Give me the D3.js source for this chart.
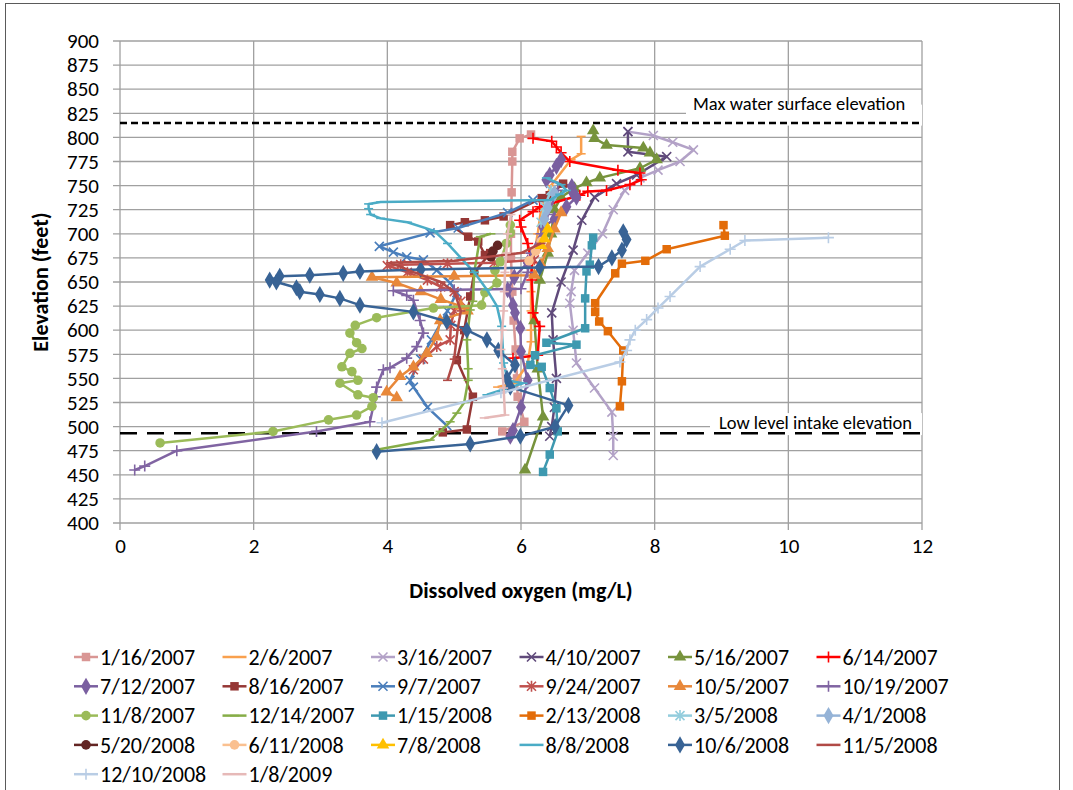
<!DOCTYPE html>
<html>
<head>
<meta charset="utf-8">
<script src="https://cdn.jsdelivr.net/npm/d3@7"></script>
<style>
  body { margin: 0; background: #fff; }
  text { font-family: Carlito, Lato, "Open Sans", sans-serif; }
</style>
</head>
<body>
<div id="chart"></div>
<script>
// DATA: each profile is [dissolved oxygen (mg/L), elevation (ft)]
const seriesNames = ["1/16/2007", "2/6/2007", "3/16/2007", "4/10/2007", "5/16/2007", "6/14/2007",
  "7/12/2007", "8/16/2007", "9/7/2007", "9/24/2007", "10/5/2007", "10/19/2007",
  "11/8/2007", "12/14/2007", "1/15/2008", "2/13/2008", "3/5/2008", "4/1/2008",
  "5/20/2008", "6/11/2008", "7/8/2008", "8/8/2008", "10/6/2008", "11/5/2008",
  "12/10/2008", "1/8/2009"];

const p20070116 = [[6.15,803],[5.98,799],[5.87,785],[5.87,775],[5.86,743],[5.85,700],[5.85,676],[5.87,640],[5.89,610],[5.92,580],[5.94,550],[5.95,531],[6.05,505],[5.72,495]];
const p20070206 = [[6.9,801],[6.9,783],[6.75,777],[6.45,750],[6.3,725],[6.25,700],[6.2,680],[6.15,660],[6.15,640],[6.15,620],[6.15,600],[6.15,588],[6.1,565],[5.9,545],[5.65,541]];
const p20070316 = [[7.6,806],[7.98,802],[8.27,795],[8.58,787],[8.38,775],[8.05,766],[7.78,758],[7.55,745],[7.38,725],[7.22,700],[7.0,680],[6.8,662],[6.75,640],[6.73,628],[6.78,600],[6.83,566],[7.1,540],[7.36,515],[7.38,490],[7.38,470]];
const p20070410 = [[7.6,806],[7.6,785],[8.18,780],[7.73,761],[7.43,752],[7.1,738],[6.91,714],[6.78,683],[6.6,650],[6.46,618],[6.48,590],[6.53,550],[6.5,520],[6.46,500],[6.43,490]];
const p20070516 = [[7.08,807],[7.1,799],[7.28,792],[7.83,789],[7.93,784],[8.03,777],[7.78,768],[7.18,758],[6.98,753],[6.8,747],[6.6,738],[6.5,725],[6.45,700],[6.4,680],[6.28,652],[6.2,610],[6.25,560],[6.33,510],[6.06,455]];
const p20070614 = [[6.18,799],[6.46,796],[6.53,790],[6.6,784],[6.73,775],[7.45,766],[7.78,763],[7.8,756],[7.63,751],[7.28,745],[7.0,744],[6.88,740],[6.28,728],[6.18,723],[5.98,714],[6.0,707],[6.1,690],[6.16,670],[6.16,652],[6.18,618],[6.28,604],[6.25,574],[5.88,571]];
const p20070712 = [[6.6,777],[6.53,770],[6.43,761],[6.38,756],[6.76,749],[6.78,742],[6.83,738],[6.68,728],[6.5,715],[6.33,707],[6.28,690],[6.1,670],[5.9,655],[5.8,642],[5.88,626],[5.91,618],[5.99,602],[6.0,578],[6.1,548],[6.0,520],[5.88,496],[5.84,490]];
const p20070816 = [[6.63,752],[6.43,740],[6.31,737],[5.74,718],[5.46,714],[5.16,712],[4.94,709],[5.21,697],[5.36,692],[5.46,678],[5.54,680],[5.3,660],[5.24,635],[5.15,600],[5.04,569],[5.28,531],[5.19,497],[4.83,494]];
const p20070907 = [[6.18,735],[5.8,722],[5.06,706],[4.64,701],[3.88,687],[4.09,681],[4.29,676],[4.54,673],[4.74,662],[4.94,649],[5.04,639],[4.9,620],[4.66,590],[4.5,570],[4.34,548],[4.39,541],[4.6,520],[4.89,501]];
const p20070924 = [[6.2,673],[5.6,670],[4.9,669],[4.2,668],[4.0,667],[4.3,660],[4.6,652],[4.8,645],[5.0,640],[5.1,630],[5.0,620],[4.95,605],[4.94,590],[4.74,583],[4.54,570],[4.39,559]];
const p20071005 = [[6.6,722],[6.5,705],[6.4,685],[6.3,668],[6.2,657],[5.0,656],[3.77,655],[4.14,649],[4.5,640],[4.8,632],[5.1,625],[5.2,620],[4.79,610],[4.74,593],[4.59,576],[4.39,562],[4.19,552],[3.99,536],[4.14,530]];
const p20071019 = [[6.55,745],[6.4,720],[6.3,700],[6.15,680],[6.1,660],[6.0,643],[5.0,642],[4.09,641],[4.29,636],[4.39,631],[4.49,610],[4.54,597],[4.44,583],[4.29,571],[4.04,561],[3.94,559],[3.84,541],[3.82,531],[3.74,505],[2.94,495],[0.85,475],[0.37,459],[0.22,455]];
const p20071108 = [[5.84,709],[5.84,701],[5.78,690],[5.69,671],[5.61,662],[5.64,649],[5.46,639],[5.41,626],[4.69,623],[3.84,613],[3.52,605],[3.44,597],[3.54,587],[3.62,581],[3.44,576],[3.32,562],[3.47,557],[3.56,548],[3.29,545],[3.56,533],[3.79,530],[3.77,521],[3.54,512],[3.12,507],[2.29,495],[0.6,483]];
const p20071214 = [[5.55,700],[5.39,697],[5.3,660],[5.28,630],[5.24,621],[5.19,590],[5.21,560],[5.21,548],[5.15,525],[5.04,514],[4.94,505],[4.79,495],[4.64,486],[3.84,476]];
const p20080115 = [[7.08,696],[7.06,688],[7.03,668],[6.98,661],[6.96,633],[6.96,602],[6.38,587],[6.83,585],[6.21,574],[6.14,564],[6.31,562],[6.43,540],[6.53,519],[6.55,495],[6.43,471],[6.33,453]];
const p20080213 = [[9.03,709],[9.05,698],[8.18,684],[7.86,672],[7.51,669],[7.41,659],[7.11,628],[7.11,619],[7.17,609],[7.3,599],[7.53,579],[7.51,547],[7.48,521]];
const p20080305 = [[6.45,745],[6.35,728],[6.3,712]];
const p20080401 = [[6.5,742],[6.4,727],[6.35,715]];
const p20080520 = [[5.65,688],[5.58,682],[5.55,676]];
const p20080611 = [[6.3,692],[6.22,682],[6.12,672]];
const p20080708 = [[6.4,705],[6.35,695],[6.3,688]];
const p20080808 = [[6.38,758],[6.6,751],[6.68,745],[6.58,741],[6.43,735],[5.0,734],[3.9,733],[3.72,731],[3.72,726],[3.75,720],[3.9,716],[4.3,712],[4.7,703],[4.9,690],[5.1,675],[5.3,660],[5.49,642],[5.64,625],[5.71,604],[5.74,566],[5.8,548],[6.03,545],[5.49,533]];
const p20081006 = [[7.53,702],[7.58,694],[7.51,683],[7.36,675],[7.16,666],[6.28,665],[4.5,663],[3.59,661],[3.34,659],[2.84,657],[2.39,656],[2.24,652],[2.34,650],[2.64,644],[2.69,640],[2.99,637],[3.29,633],[3.59,626],[4.39,619],[4.89,609],[5.19,600],[5.49,590],[5.66,579],[5.91,564],[5.79,550],[5.84,541],[6.71,522],[6.51,500],[5.99,490],[5.24,482],[3.84,474]];
const p20081105 = [[6.3,690],[6.0,680],[5.0,672],[4.05,670],[4.4,660],[4.8,650],[5.0,640],[5.1,620],[5.05,600],[5.0,570],[4.9,548]];
const p20081210 = [[10.6,696],[9.35,693],[9.13,684],[8.68,666],[8.23,635],[8.05,623],[7.88,611],[7.71,600],[7.63,590],[7.58,579],[7.48,567],[5.7,535],[3.92,504]];
const p20090108 = [[5.85,720],[5.8,700],[5.78,680],[5.76,660],[5.75,640],[5.74,620],[5.72,600],[5.7,580],[5.72,560],[5.74,540],[5.76,512],[5.45,509]];

const seriesValues = [p20070116, p20070206, p20070316, p20070410, p20070516, p20070614,
  p20070712, p20070816, p20070907, p20070924, p20071005, p20071019,
  p20071108, p20071214, p20080115, p20080213, p20080305, p20080401,
  p20080520, p20080611, p20080708, p20080808, p20081006, p20081105,
  p20081210, p20090108];

const yTicks = d3.range(400, 901, 25);
const xTicks = [0, 2, 4, 6, 8, 10, 12];
const maxWaterElevation = 815;
const lowIntakeElevation = 493;

// STYLES (one per series, same order)
const seriesColors = ["#D99694", "#F9A04E", "#B3A2C7", "#604A7B", "#77933C", "#FF0000",
  "#7A5FA0", "#953735", "#4A7EBB", "#C0504D", "#E8883A", "#8064A2",
  "#9BBB59", "#86AD47", "#3E99B0", "#E36C09", "#93CDDD", "#95B3D7",
  "#632523", "#FAC090", "#FFC000", "#4BACC6", "#386395", "#B14A46",
  "#B9CDE5", "#E6B9B8"];
const seriesMarkers = ["square", "dash", "x", "x", "triangle", "plus",
  "diamond", "square", "x", "star", "triangle", "plus",
  "circle", "dash", "square", "square", "star", "diamond",
  "circle", "circle", "triangle", "dash", "diamond", "dash",
  "plus", "dash"];

// MARGIN CONVENTIONS
const margin = { top: 41, left: 120 };
const width = 802;
const height = 482;

const svg = d3.select("#chart").append("svg")
  .attr("width", 1073)
  .attr("height", 790);

svg.append("rect")
  .attr("x", 5.5).attr("y", 3.5)
  .attr("width", 1054).attr("height", 820)
  .attr("fill", "#fff")
  .attr("stroke", "#5a5a5a");

const g = svg.append("g")
  .attr("transform", `translate(${margin.left}, ${margin.top})`);

// scales
const x = d3.scaleLinear().domain([0, 12]).range([0, width]);
const y = d3.scaleLinear().domain([400, 900]).range([height, 0]);

// grid
g.append("g").selectAll("line")
  .data(yTicks)
  .enter().append("line")
  .attr("x1", -7).attr("x2", width)
  .attr("y1", d => y(d)).attr("y2", d => y(d))
  .attr("stroke", "#a0a0a0").attr("stroke-width", 1.3);

g.append("g").selectAll("line")
  .data(xTicks)
  .enter().append("line")
  .attr("x1", d => x(d)).attr("x2", d => x(d))
  .attr("y1", 0).attr("y2", height + 7)
  .attr("stroke", "#a0a0a0").attr("stroke-width", 1.3);

// axes (labels only, grid drawn above)
const yAxis = g.append("g")
  .call(d3.axisLeft(y).tickValues(yTicks).tickSize(0).tickPadding(21));
yAxis.select(".domain").remove();
yAxis.selectAll("text")
  .style("font-size", "21px")
  .style("font-family", "Carlito, Lato, sans-serif")
  .attr("fill", "#000");

const xAxis = g.append("g")
  .attr("transform", `translate(0, ${height})`)
  .call(d3.axisBottom(x).tickValues(xTicks).tickSize(0).tickPadding(15));
xAxis.select(".domain").remove();
xAxis.selectAll("text")
  .style("font-size", "21px")
  .style("font-family", "Carlito, Lato, sans-serif")
  .attr("fill", "#000");

// axis titles
g.append("text")
  .attr("text-anchor", "middle")
  .attr("transform", "rotate(-90)")
  .attr("x", -(282 - margin.top))
  .attr("y", 48 - margin.left)
  .attr("font-weight", "bold")
  .style("font-size", "22px")
  .text("Elevation (feet)");

g.append("text")
  .attr("text-anchor", "middle")
  .attr("x", x(6))
  .attr("y", height + 75)
  .attr("font-weight", "bold")
  .style("font-size", "22px")
  .text("Dissolved oxygen (mg/L)");

// reference line labels (white boxes hide the gridline behind them)
g.append("rect")
  .attr("x", 566).attr("y", y(834)).attr("width", width - 566).attr("height", 21)
  .attr("fill", "#fff");
g.append("text")
  .attr("x", 573).attr("y", y(829) + 1)
  .style("font-size", "18.5px")
  .text("Max water surface elevation");

g.append("rect")
  .attr("x", 590).attr("y", y(514)).attr("width", width - 590).attr("height", 22)
  .attr("fill", "#fff");
g.append("text")
  .attr("x", 599).attr("y", y(496) - 1)
  .style("font-size", "18.5px")
  .text("Low level intake elevation");

g.append("line")
  .attr("x1", 0).attr("x2", width)
  .attr("y1", y(maxWaterElevation)).attr("y2", y(maxWaterElevation))
  .attr("stroke", "#000").attr("stroke-width", 2.5)
  .attr("stroke-dasharray", "7,4");

g.append("line")
  .attr("x1", 0).attr("x2", width)
  .attr("y1", y(lowIntakeElevation)).attr("y2", y(lowIntakeElevation))
  .attr("stroke", "#000").attr("stroke-width", 2.5)
  .attr("stroke-dasharray", "17,10");

// markers
function markerPath(type) {
  switch (type) {
    case "square": return { d: d3.symbol(d3.symbolSquare, 72)(), fill: true };
    case "diamond": return { d: d3.symbol(d3.symbolDiamond, 85)(), fill: true };
    case "triangle": return { d: d3.symbol(d3.symbolTriangle, 68)(), fill: true };
    case "circle": return { d: d3.symbol(d3.symbolCircle, 72)(), fill: true };
    case "x": return { d: "M-4.5,-4.5L4.5,4.5M-4.5,4.5L4.5,-4.5", fill: false };
    case "star": return { d: "M-4.5,-4.5L4.5,4.5M-4.5,4.5L4.5,-4.5M0,-5.5L0,5.5", fill: false };
    case "plus": return { d: "M-5.5,0L5.5,0M0,-5.5L0,5.5", fill: false };
    case "dash": return { d: "M-4.5,0L4.5,0", fill: false };
  }
}

const line = d3.line()
  .x(d => x(d[0]))
  .y(d => y(d[1]));

seriesValues.forEach((values, i) => {
  const color = seriesColors[i];
  const m = markerPath(seriesMarkers[i]);
  const sg = g.append("g");
  sg.append("path")
    .datum(values)
    .attr("d", line)
    .attr("fill", "none")
    .attr("stroke", color)
    .attr("stroke-width", 2.5)
    .attr("stroke-linejoin", "round");
  sg.selectAll("path.mk")
    .data(values)
    .enter().append("path")
    .attr("class", "mk")
    .attr("transform", d => `translate(${x(d[0])}, ${y(d[1])})`)
    .attr("d", m.d)
    .attr("fill", m.fill ? color : "none")
    .attr("stroke", color)
    .attr("stroke-width", m.fill ? 0 : 1.6);
});

// legend
const legend = svg.append("g");
const legendItems = legend.selectAll("g")
  .data(seriesNames)
  .enter().append("g")
  .attr("transform", (d, i) => `translate(${74 + (i % 6) * 148.5}, ${657 + Math.floor(i / 6) * 29.3})`);

legendItems.append("line")
  .attr("x1", 0).attr("x2", 24)
  .attr("stroke", (d, i) => seriesColors[i])
  .attr("stroke-width", 2.5);

legendItems.append("path")
  .attr("transform", "translate(12, 0)")
  .attr("d", (d, i) => markerPath(seriesMarkers[i]).d)
  .attr("fill", (d, i) => markerPath(seriesMarkers[i]).fill ? seriesColors[i] : "none")
  .attr("stroke", (d, i) => seriesColors[i])
  .attr("stroke-width", (d, i) => markerPath(seriesMarkers[i]).fill ? 0 : 1.6);

legendItems.append("text")
  .attr("x", 26)
  .attr("dy", "0.35em")
  .style("font-size", "22px")
  .text(d => d);
</script>
</body>
</html>
